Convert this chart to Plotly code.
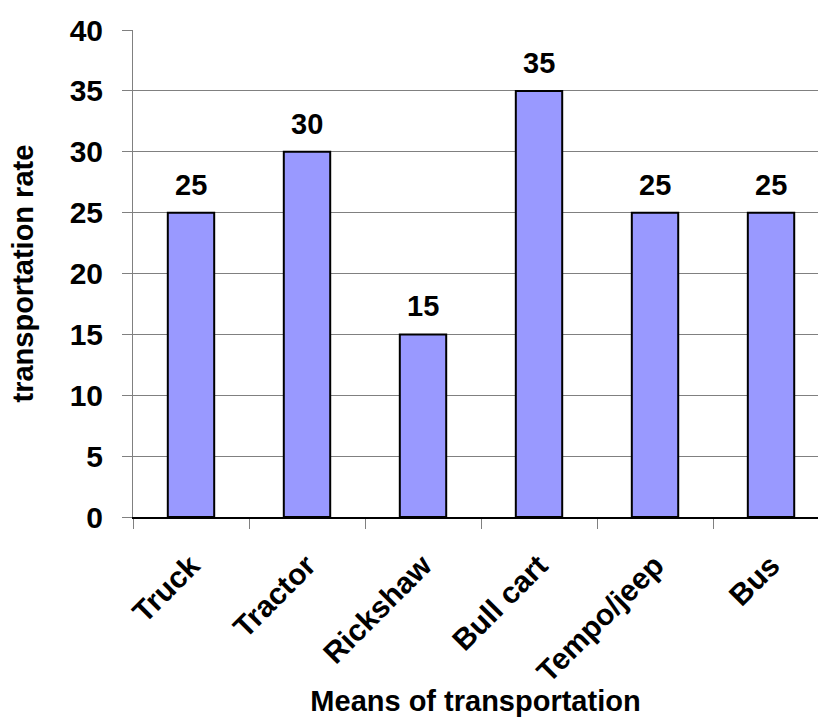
import plotly.graph_objects as go

categories = ["Truck", "Tractor", "Rickshaw", "Bull cart", "Tempo/jeep", "Bus"]
rates = [25, 30, 15, 35, 25, 25]
y_ticks = [0, 5, 10, 15, 20, 25, 30, 35, 40]

FONT = "Arial, Liberation Sans, sans-serif"
W, H = 818, 717
M_LEFT, M_TOP, M_BOTTOM = 133, 30, 200
PLOT_W = W - M_LEFT

fig = go.Figure()
fig.add_trace(go.Bar(
    x=categories,
    y=rates,
    width=0.4,
    marker=dict(color="#9999FF", line=dict(color="black", width=2)),
    hoverinfo="skip",
))

# value labels above each bar
for cat, val in zip(categories, rates):
    fig.add_annotation(
        x=cat, y=val, text=str(val), showarrow=False,
        yanchor="bottom", yshift=10,
        font=dict(family=FONT, size=29, color="black", weight="bold"),
    )

# y-axis title, placed near the left edge of the page
fig.add_annotation(
    text="transportation rate", textangle=-90, showarrow=False,
    xref="paper", yref="paper", x=(22 - M_LEFT) / PLOT_W, y=0.5,
    xanchor="center", yanchor="middle",
    font=dict(family=FONT, size=29, color="black", weight="bold"),
)

fig.update_layout(
    width=W, height=H,
    margin=dict(l=M_LEFT, r=0, t=M_TOP, b=M_BOTTOM),
    paper_bgcolor="white", plot_bgcolor="white",
    showlegend=False,
    font=dict(family=FONT, color="black"),
)

fig.update_xaxes(
    range=[-0.5, 5.405],
    tickangle=-45,
    tickfont=dict(family=FONT, size=30, color="black", weight="bold"),
    ticks="outside", tickson="boundaries", ticklen=10, tickcolor="#808080",
    ticklabelstandoff=17,
    showline=True, linecolor="black", linewidth=2,
    showgrid=False,
    title=dict(text="Means of transportation",
               font=dict(family=FONT, size=29, color="black", weight="bold"),
               standoff=1),
    automargin=False,
)

fig.update_yaxes(
    range=[0, 40],
    tickvals=y_ticks,
    tickfont=dict(family=FONT, size=30, color="black", weight="bold"),
    ticks="outside", ticklen=10, tickcolor="#808080",
    ticklabelstandoff=13,
    showline=True, linecolor="#808080", linewidth=1,
    showgrid=True, gridcolor="#808080", gridwidth=1,
    zeroline=False,
    automargin=False,
)

fig.write_html("out.html")
